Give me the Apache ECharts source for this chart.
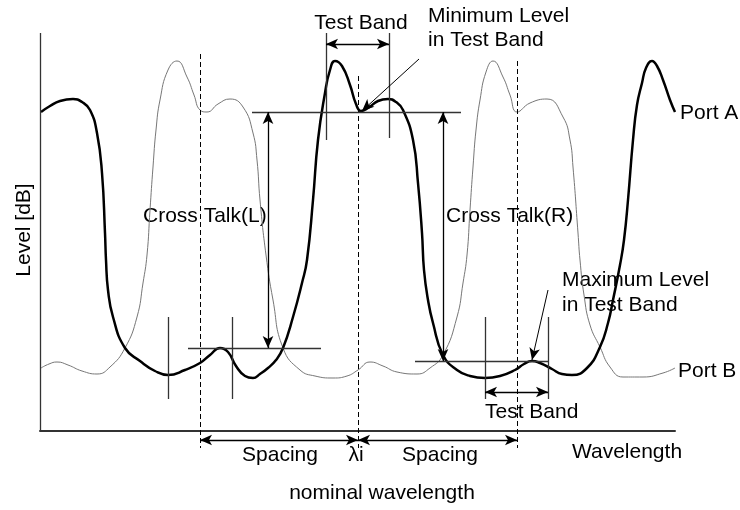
<!DOCTYPE html>
<html>
<head>
<meta charset="utf-8">
<title>Cross Talk</title>
<script src="https://cdn.jsdelivr.net/npm/echarts@6/dist/echarts.min.js"></script>
<style>
    html, body { margin: 0; padding: 0; background: #fff; }
    #chart { width: 740px; height: 510px; }
</style>
</head>
<body>
<div id="chart"></div>
<script>
// wavelength (relative units) and level (relative dB) of the two ports
const portA = [
    [1,319],[10,325],[20,330],[33,332],[42,329],[50,321],[57,298],[62,258],[65,198],[66,171],[68,141],[73,114],
    [85,83],[100,70],[115,60],[128,56],[145,61],[160,68],[170,76],[180,83],[188,79],[196,65],[205,55],[213,53],
    [220,57],[228,63],[236,71],[243,83],[253,114],[262,148],[267,171],[273,231],[278,291],[285,338],[290,361],
    [295,370],[302,365],[310,346],[316,327],[321,320],[328,323],[338,330],[348,332],[356,329],[363,321],[373,291],
    [378,248],[382,198],[384,161],[388,131],[393,108],[403,76],[417,61],[430,55],[445,53],[460,55],[475,61],
    [484,67],[492,70],[500,68],[512,62],[522,57],[532,56],[547,63],[560,84],[568,108],[573,131],[580,166],
    [584,191],[588,231],[593,291],[597,326],[602,348],[606,363],[612,370],[617,365],[623,351],[630,331],[635,319]
];
const portB = [
    [1,63],[9,67],[17,69],[28,66],[42,60],[57,57],[70,64],[85,83],[97,114],[103,148],[107,176],[110,221],
    [113,264],[116,301],[120,331],[128,361],[137,370],[147,354],[154,336],[160,321],[167,319],[178,327],[190,332],
    [203,324],[213,298],[217,271],[220,231],[226,176],[233,131],[243,83],[260,61],[275,55],[293,53],[307,55],
    [318,61],[330,69],[343,65],[357,59],[377,57],[390,63],[403,76],[417,114],[423,148],[427,176],[430,221],
    [433,264],[436,301],[440,331],[446,359],[453,370],[463,354],[470,336],[477,319],[490,328],[507,332],[523,314],
    [530,291],[533,264],[538,198],[540,171],[544,136],[550,106],[560,84],[570,64],[583,54],[603,54],[623,58],[635,63]
];

// nominal channel wavelengths (dashed): [from, to]
const channelLines = [
    [[160,377],[160,-17]],
    [[318,355],[318,-17]],
    [[477,370],[477,-17]]
];
// measurement helpers without arrow heads
const plainLines = [
    [[0,0],[0,398]],            // level axis
    [[286,398],[286,291]],      // test band (top)
    [[349,398],[349,293]],
    [[212,319],[421,319]],      // minimum level
    [[148,83],[281,83]],        // cross talk L level
    [[375,70],[508,70]],        // maximum level
    [[128,114],[128,32]],
    [[192,114],[192,32]],
    [[445,114],[445,32]],
    [[508,114],[508,32]]
];
// double headed arrows
const doubleArrows = [
    [[286,387],[349,387]],
    [[228,319],[228,83]],
    [[403,319],[403,70]],
    [[445,39],[508,39]],
    [[160,-9],[318,-9]],
    [[318,-9],[477,-9]]
];
// pointers to min / max level
const pointers = [
    [[379,372],[322,320]],
    [[508,141],[492,71]]
];

(function() {
    const font = '21px "Liberation Sans", Arial, sans-serif';

    function toMarkData(list) {
        return list.map(s => [{ coord: s[0] }, { coord: s[1] }]);
    }

    function markSeries(name, list, symbol, lineStyle) {
        return {
            name: name,
            type: 'line',
            data: [],
            silent: true,
            markLine: {
                silent: true,
                animation: false,
                symbol: symbol,
                symbolSize: [8, 12],
                label: { show: false },
                emphasis: { disabled: true },
                lineStyle: lineStyle,
                data: toMarkData(list)
            }
        };
    }

    function label(text, x, y, align, rotation) {
        return {
            type: 'text',
            x: x,
            y: y,
            rotation: rotation || 0,
            silent: true,
            style: {
                text: text,
                font: font,
                fill: '#000',
                align: align,
                verticalAlign: 'middle'
            }
        };
    }

    function initChart() {
        const chart = echarts.init(document.getElementById('chart'));
        chart.setOption({
            animation: false,
            backgroundColor: '#fff',
            grid: { left: 40, top: 33, width: 635, height: 437 },
            xAxis: {
                type: 'value',
                min: 0,
                max: 635,
                axisLine: { show: true, onZero: true, lineStyle: { color: '#333', width: 2 } },
                axisTick: { show: false },
                axisLabel: { show: false },
                splitLine: { show: false }
            },
            yAxis: {
                type: 'value',
                min: -39,
                max: 398,
                axisLine: { show: false },
                axisTick: { show: false },
                axisLabel: { show: false },
                splitLine: { show: false }
            },
            series: [
                {
                    name: 'Port B',
                    type: 'line',
                    data: portB,
                    showSymbol: false,
                    smooth: 0.5,
                    lineStyle: { color: '#777', width: 1 }
                },
                {
                    name: 'Port A',
                    type: 'line',
                    data: portA,
                    showSymbol: false,
                    smooth: 0.5,
                    lineStyle: { color: '#000', width: 2.5 }
                },
                markSeries('channels', channelLines, ['none', 'none'], { color: '#000', width: 1, type: [5, 3] }),
                markSeries('plain', plainLines, ['none', 'none'], { color: '#333', width: 1.3, type: 'solid' }),
                markSeries('arrows', doubleArrows, ['arrow', 'arrow'], { color: '#000', width: 1.3, type: 'solid' }),
                markSeries('pointers', pointers, ['none', 'arrow'], { color: '#000', width: 1, type: 'solid' })
            ],
            graphic: [
                label('Test Band', 361, 23, 'center'),
                label('Minimum Level', 428, 16, 'left'),
                label('in Test Band', 428, 40, 'left'),
                label('Port A', 680, 113, 'left'),
                label('Cross Talk(L)', 143, 216, 'left'),
                label('Cross Talk(R)', 446, 216, 'left'),
                label('Level [dB]', 24, 230, 'center', Math.PI / 2),
                label('Maximum Level', 562, 280, 'left'),
                label('in Test Band', 562, 305, 'left'),
                label('Port B', 678, 371, 'left'),
                label('Test Band', 485, 412, 'left'),
                label('Spacing', 280, 455, 'center'),
                label('\u03bbi', 356, 455, 'center'),
                label('Spacing', 440, 455, 'center'),
                label('Wavelength', 627, 452, 'center'),
                label('nominal wavelength', 382, 493, 'center')
            ]
        });
    }

    if (document.readyState === 'loading') {
        document.addEventListener('DOMContentLoaded', initChart);
    } else {
        initChart();
    }
})();
</script>
</body>
</html>
